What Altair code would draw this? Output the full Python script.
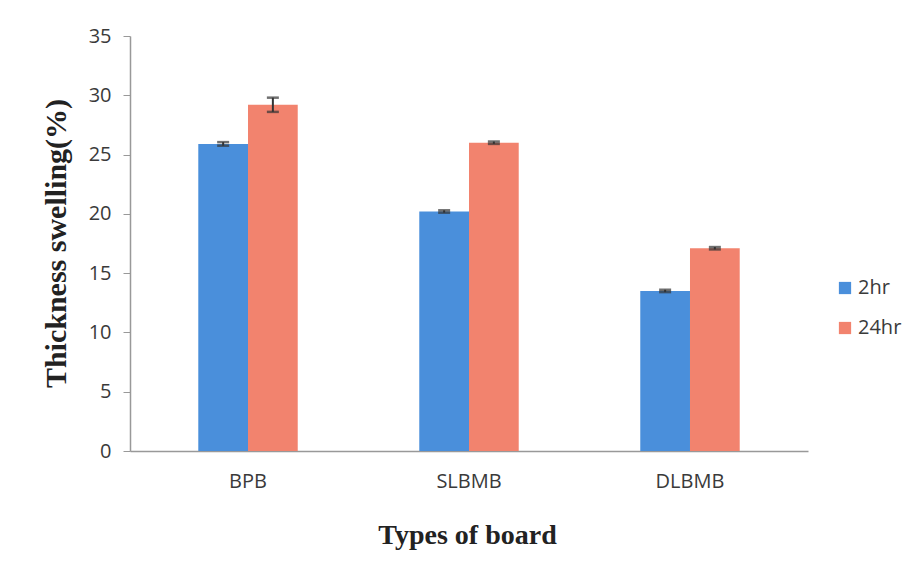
import altair as alt
import pandas as pd

boards = ["BPB", "SLBMB", "DLBMB"]
periods = ["2hr", "24hr"]
values_2hr = [25.9, 20.2, 13.5]
values_24hr = [29.2, 26.0, 17.1]
err_2hr = [0.15, 0.1, 0.1]
err_24hr = [0.6, 0.1, 0.1]
colors = ["#4A8FDB", "#F2836E"]
y_ticks = [0, 5, 10, 15, 20, 25, 30, 35]

rows = []
for i, b in enumerate(boards):
    rows.append({"board": b, "period": "2hr", "value": values_2hr[i], "err": err_2hr[i]})
    rows.append({"board": b, "period": "24hr", "value": values_24hr[i], "err": err_24hr[i]})
df = pd.DataFrame(rows)
df["lo"] = df["value"] - df["err"]
df["hi"] = df["value"] + df["err"]

label_font = "Open Sans"
title_font = "Liberation Serif"

x_enc = alt.X(
    "board:N",
    sort=boards,
    scale=alt.Scale(paddingInner=0.55, paddingOuter=0.309),
    axis=alt.Axis(
        title="Types of board",
        labelAngle=0,
        labelFont=label_font,
        labelFontSize=20,
        labelColor="#3a3a3a",
        labelPadding=20,
        ticks=False,
        domainColor="#999999",
        domainWidth=1.5,
        titleFont=title_font,
        titleFontWeight="bold",
        titleFontSize=28,
        titleColor="#222222",
        titleX=337,
        titleY=84,
        titleBaseline="middle",
    ),
)
xoff = alt.XOffset("period:N", sort=periods, scale=alt.Scale(paddingInner=0, paddingOuter=0))

y_scale = alt.Scale(domain=[0, 35], nice=False)

base = alt.Chart(df).encode(x=x_enc, xOffset=xoff)

bars = base.mark_bar().encode(
    y=alt.Y(
        "value:Q",
        scale=y_scale,
        axis=alt.Axis(
            title="Thickness swelling(%)",
            values=y_ticks,
            grid=False,
            labelFont=label_font,
            labelFontSize=20,
            labelColor="#3a3a3a",
            labelPadding=12,
            tickSize=7,
            tickColor="#999999",
            domainColor="#999999",
            domainWidth=1.5,
            titleFont=title_font,
            titleFontWeight="bold",
            titleFontSize=30,
            titleColor="#222222",
            titleX=-74,
            titleY=207,
            titleBaseline="middle",
        ),
    ),
    color=alt.Color(
        "period:N",
        sort=periods,
        scale=alt.Scale(domain=periods, range=colors),
        legend=alt.Legend(
            title=None,
            orient="none",
            legendX=705,
            legendY=242,
            symbolType="square",
            symbolSize=150,
            symbolStrokeWidth=0,
            labelFont=label_font,
            labelFontSize=20,
            labelColor="#3a3a3a",
            rowPadding=20,
            labelOffset=3,
        ),
    ),
)

rules = base.mark_rule(color="#333333", strokeWidth=2).encode(
    y=alt.Y("lo:Q", scale=y_scale), y2="hi:Q"
)
cap_hi = base.mark_tick(color="#333333", size=12, thickness=2.5).encode(
    y=alt.Y("hi:Q", scale=y_scale)
)
cap_lo = base.mark_tick(color="#333333", size=12, thickness=2.5).encode(
    y=alt.Y("lo:Q", scale=y_scale)
)

chart = (
    alt.layer(bars, rules, cap_hi, cap_lo)
    .properties(
        width=678,
        height=415,
        autosize=alt.AutoSizeParams(type="none"),
        padding={"left": 122, "top": 28, "right": 98, "bottom": 121},
        view=alt.ViewBackground(stroke="transparent", strokeWidth=0),
    )
    .configure_view(stroke="transparent", strokeWidth=0)
    .configure(background="white")
)

chart.save("out.html", embed_options={"renderer": "svg", "actions": False})
